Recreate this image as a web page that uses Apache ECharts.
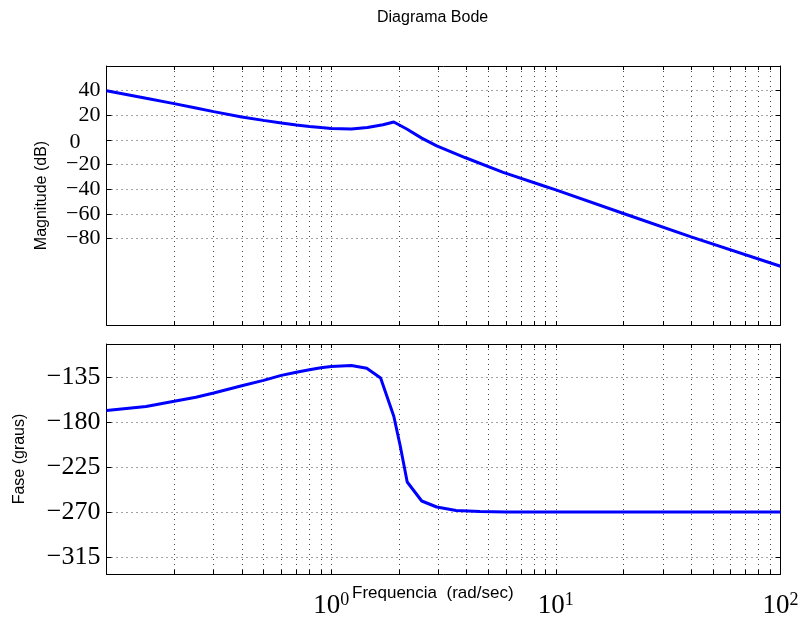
<!DOCTYPE html>
<html>
<head>
<meta charset="utf-8">
<title>Diagrama Bode</title>
<script src="https://cdn.jsdelivr.net/npm/echarts@6/dist/echarts.min.js"></script>
<style>
  html, body { margin: 0; padding: 0; background: #fff; }
  #bode { width: 802px; height: 624px; }
</style>
</head>
<body>
<div id="bode"></div>
<script>
// valores (frequencia em rad/sec)
const magFreq = [0.1, 0.15, 0.2, 0.25, 0.3, 0.4, 0.5, 0.6, 0.7, 0.8, 0.9, 1.0, 1.23, 1.45, 1.7, 1.9, 2.17, 2.53, 2.95, 3.94, 5.83, 8.79, 10, 20, 40, 100];
const magDb = [40, 33.8, 29.5, 26, 23, 18.6, 15.9, 13.7, 12.2, 11, 10.1, 9.4, 8.9, 10.2, 12.4, 14.6, 8.9, 1.5, -4.7, -14.2, -26.2, -37.1, -40.5, -59.6, -78.5, -102.4];

const phaseFreq = [0.1, 0.15, 0.2, 0.25, 0.3, 0.4, 0.5, 0.6, 0.7, 0.8, 0.9, 1.0, 1.23, 1.44, 1.66, 1.9, 2.03, 2.18, 2.53, 2.95, 3.6, 4.6, 6, 10, 100];
const phaseDeg = [-168.6, -164.4, -159.3, -155.2, -151, -143.7, -138.4, -133.4, -130.2, -127.7, -125.8, -124.4, -123.4, -126.2, -136, -174.3, -204, -240, -259, -265, -268.4, -269.6, -270, -270, -270];

const magTicks = [40, 20, 0, -20, -40, -60, -80];
const phaseTicks = [-135, -180, -225, -270, -315];
const decadeTicks = [1, 10, 100];

// grade log: 2..9 em cada decada + decadas
const gridFreqs = [];
[0.1, 1, 10].forEach(d => {
    for (let k = 1; k <= 9; k++) {
        if (k === 1 && d === 0.1) continue;
        gridFreqs.push(+(k * d).toFixed(4));
    }
});

const serif = "'Liberation Serif', 'Times New Roman', serif";
const sans = "'Liberation Sans', Arial, sans-serif";
const dotted = { color: '#444', width: 1, type: [1, 4] };
const blackLine = { show: true, onZero: false, lineStyle: { color: '#000', width: 1 } };

const minus = v => (v < 0 ? '\u2212' + Math.abs(v) : String(v));

function xAxisPair(gridIndex, withLabels) {
    const bottom = {
        type: 'log', logBase: 10, gridIndex: gridIndex, min: 0.1, max: 100,
        position: 'bottom',
        axisLine: blackLine,
        axisTick: { show: true, inside: true, length: 4, customValues: gridFreqs, lineStyle: { color: '#000' } },
        splitLine: { show: true, lineStyle: dotted },
        axisLabel: withLabels ? {
            show: true, customValues: decadeTicks, margin: 17,
            formatter: v => '{b|10}{s|' + Math.round(Math.log10(v)) + '}',
            rich: {
                b: { fontFamily: serif, fontSize: 27, color: '#000' },
                s: { fontFamily: serif, fontSize: 18, color: '#000', verticalAlign: 'top', padding: [0, 0, 12, 0] }
            }
        } : { show: false }
    };
    const top = {
        type: 'log', logBase: 10, gridIndex: gridIndex, min: 0.1, max: 100,
        position: 'top',
        axisLine: blackLine,
        axisTick: { show: true, inside: true, length: 4, customValues: gridFreqs, lineStyle: { color: '#000' } },
        splitLine: { show: false },
        axisLabel: { show: false }
    };
    return [bottom, top];
}

function yAxisPair(gridIndex, min, max, ticks, labelOpts, name, nameGap) {
    const left = {
        type: 'value', gridIndex: gridIndex, min: min, max: max, position: 'left',
        name: name, nameLocation: 'middle', nameGap: nameGap,
        nameTextStyle: { fontFamily: sans, fontSize: 16, color: '#000' },
        axisLine: blackLine,
        axisTick: { show: true, inside: true, length: 5, customValues: ticks, lineStyle: { color: '#000' } },
        splitLine: { show: true, lineStyle: dotted },
        axisLabel: Object.assign({ customValues: ticks, margin: 6, color: '#000', fontFamily: serif }, labelOpts)
    };
    const right = {
        type: 'value', gridIndex: gridIndex, min: min, max: max, position: 'right',
        axisLine: blackLine,
        axisTick: { show: true, inside: true, length: 5, customValues: ticks, lineStyle: { color: '#000' } },
        splitLine: { show: false },
        axisLabel: { show: false }
    };
    return [left, right];
}

const chart = echarts.init(document.getElementById('bode'));

const option = {
    backgroundColor: '#fff',
    animation: false,
    title: {
        text: 'Diagrama Bode', left: 372, top: 5,
        textStyle: { fontFamily: sans, fontSize: 16, fontWeight: 'normal', color: '#000' }
    },
    grid: [
        { left: 106.5, right: 21.5, top: 66, height: 259 },
        { left: 106.5, right: 21.5, top: 344, height: 230 }
    ],
    xAxis: [].concat(xAxisPair(0, false), xAxisPair(1, true)),
    yAxis: [].concat(
        yAxisPair(0, -150, 60, magTicks, {
            fontSize: 22,
            formatter: v => (v === 0 ? '{z|0}' : minus(v)),
            rich: { z: { fontFamily: serif, fontSize: 22, color: '#000', padding: [4, 20, 0, 0] } }
        }, 'Magnitude (dB)', 57),
        yAxisPair(1, -332, -102, phaseTicks, { fontSize: 26, formatter: minus }, 'Fase (graus)', 79)
    ),
    graphic: [{
        type: 'text', left: 352, top: 585,
        style: { text: 'Frequencia  (rad/sec)', font: '17px ' + sans, fill: '#000' }
    }],
    series: [
        {
            type: 'line', xAxisIndex: 0, yAxisIndex: 0, showSymbol: false,
            data: magFreq.map((f, i) => [f, magDb[i]]),
            lineStyle: { color: '#0000ff', width: 3 }
        },
        {
            type: 'line', xAxisIndex: 2, yAxisIndex: 2, showSymbol: false,
            data: phaseFreq.map((f, i) => [f, phaseDeg[i]]),
            lineStyle: { color: '#0000ff', width: 3 }
        }
    ]
};

chart.setOption(option);
</script>
</body>
</html>
